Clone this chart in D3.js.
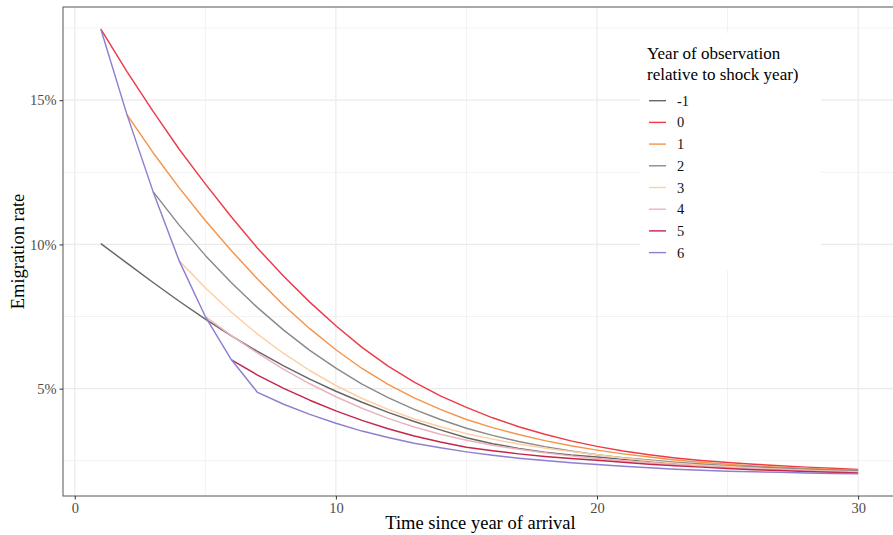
<!DOCTYPE html>
<html>
<head>
<meta charset="utf-8">
<script src="https://cdn.jsdelivr.net/npm/d3@7"></script>
<style>
  body { margin: 0; background: #fff; }
  svg text { font-family: "Liberation Serif", "Times New Roman", serif; }
</style>
</head>
<body>
<div id="chart"></div>
<script>
// legend categories (year of observation relative to shock year)
var years = ["-1", "0", "1", "2", "3", "4", "5", "6"]
var colors = ["#666666", "#ee3b47", "#f5944a", "#8a8a8a", "#fdcfa4", "#ebb3bc", "#c2264b", "#8f7fd0"]
// first "time since arrival" value of each series
var startX = [1, 1, 2, 3, 4, 5, 6, 1]

// emigration rate, in %, one value per year from startX to 30
var rateM1 = [10.03, 9.35, 8.68, 8.03, 7.41, 6.83, 6.29, 5.79, 5.33, 4.91, 4.53, 4.18, 3.86, 3.57, 3.30,
  3.09, 2.93, 2.80, 2.70, 2.63, 2.55, 2.48, 2.41, 2.35, 2.30, 2.25, 2.21, 2.17, 2.14, 2.12]
var rate0 = [17.46, 15.99, 14.61, 13.30, 12.10, 10.95, 9.87, 8.90, 8.00, 7.18, 6.43, 5.78, 5.23, 4.75, 4.35,
  3.99, 3.68, 3.42, 3.19, 3.00, 2.84, 2.71, 2.60, 2.51, 2.44, 2.38, 2.33, 2.28, 2.24, 2.20]
var rate1 = [14.50, 13.18, 11.96, 10.83, 9.78, 8.80, 7.89, 7.08, 6.35, 5.70, 5.15, 4.68, 4.28, 3.93,
  3.65, 3.41, 3.20, 3.02, 2.87, 2.74, 2.63, 2.53, 2.45, 2.38, 2.32, 2.28, 2.24, 2.20, 2.17]
var rate2 = [11.83, 10.67, 9.62, 8.67, 7.81, 7.03, 6.33, 5.71, 5.16, 4.69, 4.28, 3.93, 3.63,
  3.38, 3.17, 2.99, 2.84, 2.71, 2.61, 2.53, 2.45, 2.39, 2.33, 2.29, 2.25, 2.21, 2.18, 2.16]
var rate3 = [9.43, 8.50, 7.65, 6.89, 6.22, 5.63, 5.11, 4.66, 4.28, 3.95, 3.68, 3.44,
  3.25, 3.08, 2.94, 2.82, 2.71, 2.60, 2.50, 2.42, 2.35, 2.30, 2.25, 2.21, 2.17, 2.14, 2.12]
var rate4 = [7.50, 6.84, 6.23, 5.67, 5.17, 4.72, 4.32, 3.97, 3.67, 3.42, 3.21,
  3.04, 2.90, 2.78, 2.67, 2.58, 2.50, 2.43, 2.37, 2.32, 2.27, 2.23, 2.19, 2.16, 2.13, 2.10]
var rate5 = [6.00, 5.47, 5.01, 4.60, 4.23, 3.90, 3.61, 3.36, 3.15, 2.97,
  2.85, 2.74, 2.65, 2.58, 2.52, 2.45, 2.38, 2.33, 2.28, 2.23, 2.19, 2.16, 2.13, 2.10, 2.08]
var rate6 = [17.46, 14.50, 11.83, 9.43, 7.50, 6.00, 4.87, 4.46, 4.11, 3.80, 3.53, 3.31, 3.11, 2.95, 2.81,
  2.69, 2.59, 2.51, 2.43, 2.37, 2.31, 2.26, 2.21, 2.17, 2.14, 2.12, 2.10, 2.08, 2.06, 2.05]
var rates = [rateM1, rate0, rate1, rate2, rate3, rate4, rate5, rate6]

var xTicks = [0, 10, 20, 30]
var yTicks = [5, 10, 15]

var width = 893, height = 535
var pLeft = 63, pTop = 7, pRight = 896, pBottom = 496

var series = years.map((yr, i) => ({
  year: yr,
  color: colors[i],
  values: rates[i].map((v, j) => ({x: startX[i] + j, y: v}))
}))
var allPts = series.flatMap(s => s.values)

// ggplot-style 5% expansion
function expand(ext) { var r = ext[1] - ext[0]; return [ext[0] - 0.05 * r, ext[1] + 0.05 * r] }

var x = d3.scaleLinear().domain(expand(d3.extent(allPts, d => d.x))).range([pLeft, pRight])
var y = d3.scaleLinear().domain(expand(d3.extent(allPts, d => d.y))).range([pBottom, pTop])

let svg = d3.select("#chart").append("svg").attr("width", width).attr("height", height)

var grid = svg.append("g")
// minor grid
var xMinor = [5, 15, 25]
var yMinor = [2.5, 7.5, 12.5, 17.5]
grid.selectAll(".xmin").data(xMinor).join("line").attr("class", "xmin")
  .attr("x1", d => x(d)).attr("x2", d => x(d)).attr("y1", pTop).attr("y2", pBottom)
  .style("stroke", "#f2f2f2").style("stroke-width", 1)
grid.selectAll(".ymin").data(yMinor).join("line").attr("class", "ymin")
  .attr("x1", pLeft).attr("x2", pRight).attr("y1", d => y(d)).attr("y2", d => y(d))
  .style("stroke", "#f2f2f2").style("stroke-width", 1)
// major grid
grid.selectAll(".xmaj").data(xTicks).join("line").attr("class", "xmaj")
  .attr("x1", d => x(d)).attr("x2", d => x(d)).attr("y1", pTop).attr("y2", pBottom)
  .style("stroke", "#ebebeb").style("stroke-width", 1.2)
grid.selectAll(".ymaj").data(yTicks).join("line").attr("class", "ymaj")
  .attr("x1", pLeft).attr("x2", pRight).attr("y1", d => y(d)).attr("y2", d => y(d))
  .style("stroke", "#ebebeb").style("stroke-width", 1.2)

var line = d3.line().x(d => x(d.x)).y(d => y(d.y))
svg.append("g").selectAll("path").data(series).join("path")
  .attr("d", d => line(d.values))
  .style("fill", "none").style("stroke", d => d.color).style("stroke-width", 1.45)
  .style("stroke-linejoin", "round")

// panel border
svg.append("rect").attr("x", pLeft).attr("y", pTop).attr("width", pRight - pLeft).attr("height", pBottom - pTop)
  .style("fill", "none").style("stroke", "#555").style("stroke-width", 1)

// axes
var xAxis = svg.append("g").attr("transform", `translate(0,${pBottom})`)
  .call(d3.axisBottom(x).tickValues(xTicks).tickSize(3.5).tickPadding(3))
var yAxis = svg.append("g").attr("transform", `translate(${pLeft},0)`)
  .call(d3.axisLeft(y).tickValues(yTicks).tickFormat(d => d + "%").tickSize(3.5).tickPadding(3))
;[xAxis, yAxis].forEach(a => {
  a.select(".domain").remove()
  a.selectAll(".tick line").style("stroke", "#333")
  a.selectAll(".tick text").style("fill", "#4d4d4d").style("font-size", "14.5px")
    .style("font-family", '"Liberation Serif", serif')
})

svg.append("text").attr("x", (pLeft + pRight) / 2 + 1).attr("y", 529).attr("text-anchor", "middle")
  .style("font-size", "18.5px").text("Time since year of arrival")
svg.append("text").attr("transform", `translate(24,${(pTop + pBottom) / 2}) rotate(-90)`)
  .attr("text-anchor", "middle").style("font-size", "18.5px").text("Emigration rate")

// legend
var lg = svg.append("g")
lg.append("rect").attr("x", 640).attr("y", 33).attr("width", 181).attr("height", 237).style("fill", "#fff")
lg.append("text").attr("x", 647).attr("y", 59).style("font-size", "17px").text("Year of observation")
lg.append("text").attr("x", 647).attr("y", 80).style("font-size", "17px").text("relative to shock year)")
var items = lg.selectAll(".item").data(series).join("g").attr("class", "item")
  .attr("transform", (d, i) => `translate(0,${100.7 + i * 21.7})`)
items.append("line").attr("x1", 649).attr("x2", 666).attr("y1", 0).attr("y2", 0)
  .style("stroke", d => d.color).style("stroke-width", 1.4)
items.append("text").attr("x", 677).attr("y", 5).style("font-size", "14.5px").style("fill", "#111")
  .text(d => d.year)
</script>
</body>
</html>
